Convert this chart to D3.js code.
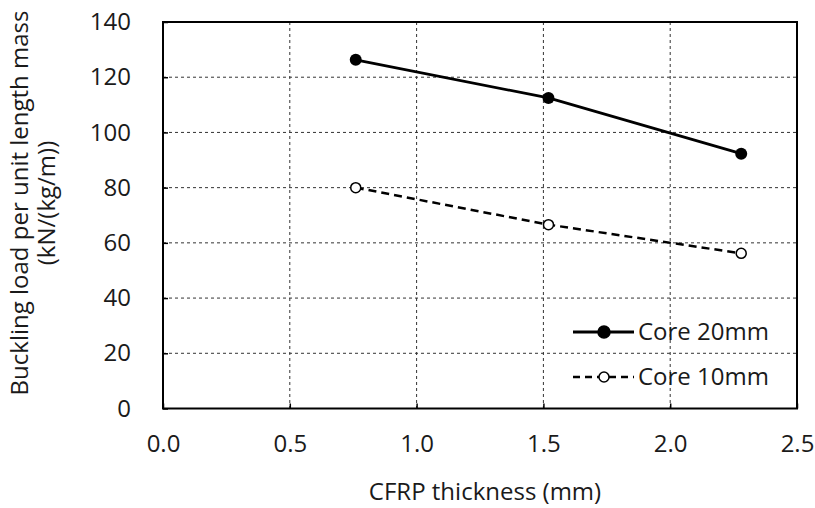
<!DOCTYPE html>
<html>
<head>
<meta charset="utf-8">
<script src="https://cdn.jsdelivr.net/npm/d3@7"></script>
<style>
  html, body { margin: 0; padding: 0; background: #fff; }
  svg text { font-family: "Open Sans", sans-serif; fill: #1a1a1a; }
</style>
</head>
<body>
<svg id="chart" width="815" height="508"></svg>
<script>
// CFRP face-sheet thickness (mm)
const thickness = [0.76, 1.52, 2.28];
// Buckling load per unit length mass (kN/(kg/m))
const core20 = [126.3, 112.5, 92.3];
const core10 = [80.0, 66.6, 56.2];
const seriesNames = ["Core 20mm", "Core 10mm"];
const xTicks = [0, 0.5, 1.0, 1.5, 2.0, 2.5];
const yTicks = [0, 20, 40, 60, 80, 100, 120, 140];

const FONT = "'Open Sans', sans-serif";
const FS = 24;

const svg = d3.select("#chart");
const m = { left: 163, right: 797, top: 22, bottom: 408.5 };

const x = d3.scaleLinear().domain([0, 2.5]).range([m.left, m.right]);
const y = d3.scaleLinear().domain([0, 140]).range([m.bottom, m.top]);

// dashed grid
const grid = svg.append("g");
grid.selectAll("line.v").data(xTicks.slice(1, -1)).join("line")
  .attr("x1", d => x(d)).attr("x2", d => x(d))
  .attr("y1", m.top).attr("y2", m.bottom)
  .attr("stroke", "#333").attr("stroke-width", 1).attr("stroke-dasharray", "3,3");
grid.selectAll("line.h").data(yTicks.slice(1, -1)).join("line")
  .attr("x1", m.left).attr("x2", m.right)
  .attr("y1", d => y(d)).attr("y2", d => y(d))
  .attr("stroke", "#333").attr("stroke-width", 1).attr("stroke-dasharray", "3,3");

// axes with inward ticks
const xAxis = svg.append("g").attr("transform", `translate(0,${m.bottom})`)
  .call(d3.axisBottom(x).tickValues(xTicks).tickFormat(d3.format(".1f"))
    .tickSizeInner(-5).tickSizeOuter(0).tickPadding(26));
const yAxis = svg.append("g").attr("transform", `translate(${m.left},0)`)
  .call(d3.axisLeft(y).tickValues(yTicks).tickFormat(d3.format("d"))
    .tickSizeInner(-5).tickSizeOuter(0).tickPadding(32));
[xAxis, yAxis].forEach(g => {
  g.select(".domain").remove();
  g.selectAll(".tick line").attr("stroke", "#000").attr("stroke-width", 1.5);
  g.selectAll(".tick text").attr("font-size", FS).attr("fill", "#1a1a1a")
    .style("font-family", FONT);
});

// plot frame
svg.append("rect")
  .attr("x", m.left).attr("y", m.top)
  .attr("width", m.right - m.left).attr("height", m.bottom - m.top)
  .attr("fill", "none").attr("stroke", "#000").attr("stroke-width", 2);

// series
const line = d3.line().x(d => x(d[0])).y(d => y(d[1]));
const s20 = thickness.map((t, i) => [t, core20[i]]);
const s10 = thickness.map((t, i) => [t, core10[i]]);

svg.append("path").datum(s20).attr("d", line)
  .attr("fill", "none").attr("stroke", "#000").attr("stroke-width", 2.8);
svg.append("path").datum(s10).attr("d", line)
  .attr("fill", "none").attr("stroke", "#000").attr("stroke-width", 2.5)
  .attr("stroke-dasharray", "8,5");

svg.selectAll("circle.s20").data(s20).join("circle")
  .attr("cx", d => x(d[0])).attr("cy", d => y(d[1])).attr("r", 6)
  .attr("fill", "#000");
svg.selectAll("circle.s10").data(s10).join("circle")
  .attr("cx", d => x(d[0])).attr("cy", d => y(d[1])).attr("r", 5)
  .attr("fill", "#fff").attr("stroke", "#000").attr("stroke-width", 1.5);

// legend
const leg = svg.append("g");
const rows = [
  { name: seriesNames[0], dash: null, fill: "#000", r: 6, yy: 332 },
  { name: seriesNames[1], dash: "7,5", fill: "#fff", r: 5, yy: 377 }
];
rows.forEach(rw => {
  leg.append("line").attr("x1", 573).attr("x2", 634).attr("y1", rw.yy).attr("y2", rw.yy)
    .attr("stroke", "#000").attr("stroke-width", rw.dash ? 2.5 : 2.8)
    .attr("stroke-dasharray", rw.dash);
  leg.append("circle").attr("cx", 604).attr("cy", rw.yy).attr("r", rw.r)
    .attr("fill", rw.fill).attr("stroke", "#000").attr("stroke-width", 1.5);
  leg.append("text").attr("x", 638).attr("y", rw.yy).attr("dy", "0.35em")
    .attr("font-size", FS).text(rw.name);
});

// axis titles
svg.append("text").attr("x", 485).attr("y", 500)
  .attr("text-anchor", "middle").attr("font-size", FS).text("CFRP thickness (mm)");
const yt = svg.append("text").attr("transform", "translate(0,203) rotate(-90)")
  .attr("text-anchor", "middle").attr("font-size", FS);
yt.append("tspan").attr("x", 0).attr("y", 28).text("Buckling load per unit length mass");
yt.append("tspan").attr("x", 0).attr("y", 55).text("(kN/(kg/m))");
</script>
</body>
</html>
